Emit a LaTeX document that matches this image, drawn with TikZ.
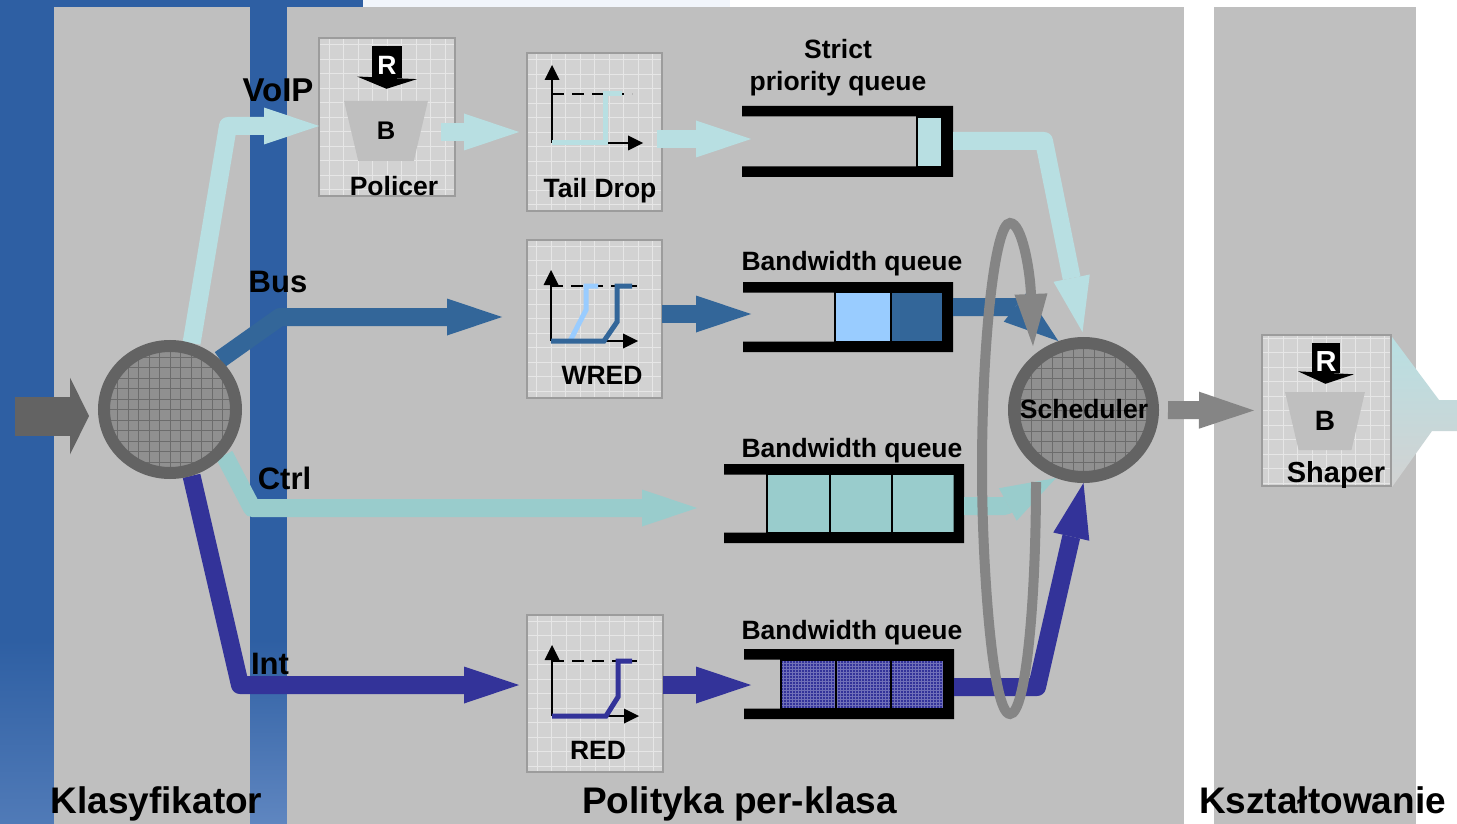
\documentclass[tikz,border=0pt]{standalone}
\usepackage{fontspec}
\setmainfont{Liberation Sans}
\usetikzlibrary{arrows.meta, shapes.geometric}
\definecolor{bluebar}{HTML}{2E5FA3}
\definecolor{bluelow}{HTML}{5F86C0}
\definecolor{paleblue}{HTML}{F1F5FB}
\definecolor{panelgray}{HTML}{BFBFBF}
\definecolor{boxgray}{HTML}{D2D2D2}
\definecolor{boxedge}{HTML}{9C9C9C}
\definecolor{voipc}{HTML}{B8DFE2}
\definecolor{busc}{HTML}{336699}
\definecolor{busl}{HTML}{99CCFF}
\definecolor{ctrlc}{HTML}{99CCCC}
\definecolor{intc}{HTML}{333399}
\definecolor{ringc}{HTML}{636363}
\definecolor{loopc}{HTML}{858585}
\definecolor{hubfill}{HTML}{909090}
\definecolor{hubgrid}{HTML}{6C6C6C}
\pgfdeclarelayer{front}
\pgfsetlayers{main,front}
\newcommand{\qwalls}[1]{\fill (#1.north west) -- (#1.north east) -- (#1.south east) -- (#1.south west)
  -- ([yshift=10.5pt]#1.south west) -- ([shift={(-10.5pt,10.5pt)}]#1.south east)
  -- ([shift={(-10.5pt,-10.5pt)}]#1.north east) -- ([yshift=-10.5pt]#1.north west) -- cycle;}
\tikzset{
  lbl/.style={font=\bfseries\fontsize{26.5}{32}\selectfont, anchor=base, inner sep=0pt, outer sep=0pt},
  biglbl/.style={lbl, font=\bfseries\fontsize{37}{40}\selectfont},
  midlbl/.style={lbl, font=\bfseries\fontsize{31}{34}\selectfont},
  mech/.style={draw=boxedge, line width=2pt, fill=boxgray, inner sep=0pt, outer sep=0pt,
    path picture={\draw[white!45!boxgray, line width=.7pt, step=14.5pt]
      (path picture bounding box.south west) grid (path picture bounding box.north east);}},
  bucket/.style={trapezium, shape border rotate=180, trapezium stretches=true,
    trapezium left angle=75, trapezium right angle=75, fill=panelgray, inner sep=0pt,
    font=\bfseries\fontsize{25.5}{28}\selectfont},
  ratebox/.style={fill=black, text=white, inner sep=0pt, outer sep=0pt, minimum height=32pt, text depth=2pt,
    text height=28pt},
  ratetip/.style={line width=1pt, -{Triangle[length=11pt,width=#1,line width=0pt]}},
  hub/.style={ellipse, draw=ringc, line width=12pt, fill=hubfill, inner sep=0pt,
    path picture={\draw[hubgrid, line width=.7pt, step=10.5pt]
      (path picture bounding box.south west) grid (path picture bounding box.north east);}},
  qslot/.style={inner sep=0pt, outer sep=0pt},
  qcell/.style={draw=black, line width=1.5pt},
  pipe/.style={line width=18pt, line join=round, -{Triangle[length=55pt,width=37pt,line width=0pt]}},
  axis/.style={line width=1.5pt, -{Triangle[length=15pt,width=15pt,line width=0pt]}},
  limit/.style={line width=1.5pt, dash pattern=on 12pt off 8pt},
  curve/.style={line width=5pt, line join=miter}
}
\begin{document}
\begin{tikzpicture}[x=1pt, y=-1pt]
\useasboundingbox (0,0) rectangle (1457,824);
\fill[white] (0,0) rectangle (1457,824);
\fill[bluebar] (0,0) rectangle (54,640);
\fill[bluebar] (250,0) rectangle (287,640);
\fill[bluebar] (54,0) rectangle (363,7);
\shade[top color=bluebar, bottom color=bluelow!70!bluebar] (0,640) rectangle (54,824);
\shade[top color=bluebar, bottom color=bluelow] (250,640) rectangle (287,824);
\fill[paleblue] (363,0) rectangle (730,7);
\fill[panelgray] (54,7) rectangle (250,824);
\fill[panelgray] (287,7) rectangle (1184,824);
\fill[panelgray] (1214,7) rectangle (1416,824);
\shade[top color=voipc, bottom color=boxgray] (1392,337) -- (1439,400) -- (1457,400) -- (1457,431) -- (1432,431) -- (1392,487) -- cycle;

\node[mech, minimum width=136pt, minimum height=158pt] (policer) at (387,117) {};
\node[mech, minimum width=135pt, minimum height=158pt] (taildrop) at (594.5,132) {};
\node[mech, minimum width=135pt, minimum height=158pt] (wred) at (594.5,318.5) {};
\node[mech, minimum width=136pt, minimum height=157pt] (red) at (595,693.5) {};
\node[mech, minimum width=129pt, minimum height=151pt] (shaper) at (1326.5,410.5) {};

\node[bucket, minimum width=84pt, minimum height=60pt] (policerb) at (386,131) {B};
\node[bucket, minimum width=80pt, minimum height=58pt, font=\bfseries\fontsize{28}{30}\selectfont] (shaperb) at (1325,421) {B};
\node[ratebox, minimum width=30pt, font=\bfseries\fontsize{26.5}{28}\selectfont] (policerr) at (387,62) {R};
\node[ratebox, minimum width=28pt, minimum height=30pt, font=\bfseries\fontsize{29}{30}\selectfont] (shaperr) at (1326,358) {R};
\draw[ratetip=60pt, shorten >=12pt] (policerr.south) -- (policerb.north);
\draw[ratetip=56pt, shorten >=8pt] (shaperr.south) -- (shaperb.north);

\draw[axis] (552,143) -- (552,65);
\draw[axis] (552,143) -- (643,143);
\draw[limit] (552,94) -- (632,94);
\draw[curve, voipc] (552,143) -- (605,143) -- (605,94) -- (622,94);
\draw[axis] (551,341) -- (551,270);
\draw[axis] (551,341) -- (638,341);
\draw[limit] (551,286) -- (637,286);
\draw[curve, busl] (570,341) -- (586,310) -- (586,286) -- (598,286);
\draw[curve, busc] (551,341) -- (604,341) -- (617,322) -- (617,286) -- (632,286);
\draw[axis] (552,716) -- (552,645);
\draw[axis] (552,716) -- (639,716);
\draw[limit] (552,661) -- (637,661);
\draw[curve, intc] (552,716) -- (606,716) -- (618,697) -- (618,661) -- (632,661);

\node[qslot, minimum width=211pt, minimum height=71pt] (strictq) at (847.5,141.5) {};
\node[qslot, minimum width=210pt, minimum height=70pt] (wredq) at (848,317) {};
\node[qslot, minimum width=240pt, minimum height=79pt] (ctrlq) at (844,503.5) {};
\node[qslot, minimum width=210pt, minimum height=70pt] (redq) at (849,684) {};
\draw[qcell, fill=voipc] (917,117) rectangle (942,167);
\draw[qcell, fill=busl] (835,292) rectangle (891,342);
\draw[qcell, fill=busc] (891,292) rectangle (943,342);
\foreach \a/\b in {767/830, 830/892, 892/955}
  \draw[qcell, fill=ctrlc] (\a,474) rectangle (\b,533);
\foreach \a/\b in {781/836, 836/891, 891/944}
  \draw[qcell, fill=intc, path picture={\draw[white!30!intc, line width=.6pt, step=3pt]
    (path picture bounding box.south west) grid (path picture bounding box.north east);}] (\a,660) rectangle (\b,709);
\qwalls{strictq}
\qwalls{wredq}
\qwalls{ctrlq}
\qwalls{redq}

\begin{pgfonlayer}{front}
\node[hub, minimum width=132pt, minimum height=127pt] (classifier) at (170,409.5) {};
\node[hub, minimum width=139pt, minimum height=134pt] (sched) at (1083.5,410) {};
\node[lbl] (schedname) at (1084,418) {Scheduler};
\end{pgfonlayer}

\coordinate (feedin) at (15,416);
\coordinate (feedtip) at (89,416);
\coordinate (voipbend) at (228,126);
\coordinate (busbend) at (280,317);
\coordinate (ctrlbend) at (252,508);
\coordinate (intbend) at (240,685);
\coordinate (strictin) at (751,139);
\coordinate (wredqin) at (751,314);
\coordinate (ctrlqin) at (697,508);
\coordinate (wredin) at (502,317);
\coordinate (redin) at (519,685);
\coordinate (redqin) at (751,685);
\coordinate (strictbend) at (1044,141);
\coordinate (busout) at (953,307);
\coordinate (busoutbend) at (1015,307);
\coordinate (ctrlout) at (964,506);
\coordinate (ctrloutbend) at (1005,506);
\coordinate (intout) at (954,687);
\coordinate (intoutbend) at (1037,687);
\coordinate (loopstart) at (1036,482);
\coordinate (looptip) at (1033,346);

\draw[ringc, line width=39pt, -{Triangle[length=19pt,width=77pt,line width=0pt]}] (feedin) -- (feedtip);
\draw[pipe, voipc] (classifier.72) -- (voipbend) -- (policer.west|-voipbend);
\draw[pipe, voipc, shorten <=-14pt, shorten >=8pt] (policer.east|-taildrop.west) -- (taildrop.west);
\draw[pipe, voipc, shorten <=-5pt] (taildrop.east|-strictin) -- (strictin);
\draw[pipe, busc] (classifier.45) -- (busbend) -- (wredin);
\draw[pipe, busc] (wred.east|-wredqin) -- (wredqin);
\draw[pipe, ctrlc] (classifier.-40) -- (ctrlbend) -- (ctrlqin);
\draw[pipe, intc] (classifier.-72) -- (intbend) -- (redin);
\draw[pipe, intc] (red.east|-redqin) -- (redqin);

\draw[pipe, voipc, shorten >=5pt] (strictq.east|-strictbend) -- (strictbend) -- (sched.north);
\draw[pipe, busc] (busout) -- (busoutbend) -- (sched.110);
\draw[pipe, ctrlc] (ctrlout) -- (ctrloutbend) -- (sched.-112);
\draw[pipe, intc] (intout) -- (intoutbend) -- (sched.south);
\draw[pipe, loopc, shorten <=9pt, shorten >=8pt] (sched.east) -- (shaper.west);
\draw[loopc, line width=10pt, -{Triangle[length=52pt,width=33pt,line width=0pt]}] (loopstart)
  .. controls (1036,600) and (1026,714) .. (1010,714)
  .. controls (992,714) and (982,560) .. (982,470)
  .. controls (982,340) and (995,223) .. (1010,223)
  .. controls (1022,223) and (1030,270) .. (looptip);

\node[midlbl, font=\bfseries\fontsize{33}{34}\selectfont] (voiplbl) at (278,102) {VoIP};
\node[midlbl] (buslbl) at (278,292.5) {Bus};
\node[midlbl] (ctrllbl) at (284.5,489) {Ctrl};
\node[midlbl] (intlbl) at (270,674) {Int};
\node[lbl] (policerlbl) at (394,195) {Policer};
\node[lbl] (taildroplbl) at (600,197) {Tail Drop};
\node[lbl] (wredlbl) at (602,384) {WRED};
\node[lbl] (redlbl) at (598,759) {RED};
\node[lbl, font=\bfseries\fontsize{29}{32}\selectfont] (shaperlbl) at (1336,482) {Shaper};
\node[lbl] (strictlbl) at (838,59) {Strict};
\node[lbl] (prioritylbl) at (838,91) {priority queue};
\node[lbl] (wredqlbl) at (852,270) {Bandwidth queue};
\node[lbl] (ctrlqlbl) at (852,457) {Bandwidth queue};
\node[lbl] (redqlbl) at (852,639) {Bandwidth queue};
\node[biglbl] (classlbl) at (156.5,813) {Klasyfikator};
\node[biglbl] (policylbl) at (739.5,813) {Polityka per-klasa};
\node[biglbl] (shapelbl) at (1322.5,813) {Kształtowanie};
\end{tikzpicture}
\end{document}
